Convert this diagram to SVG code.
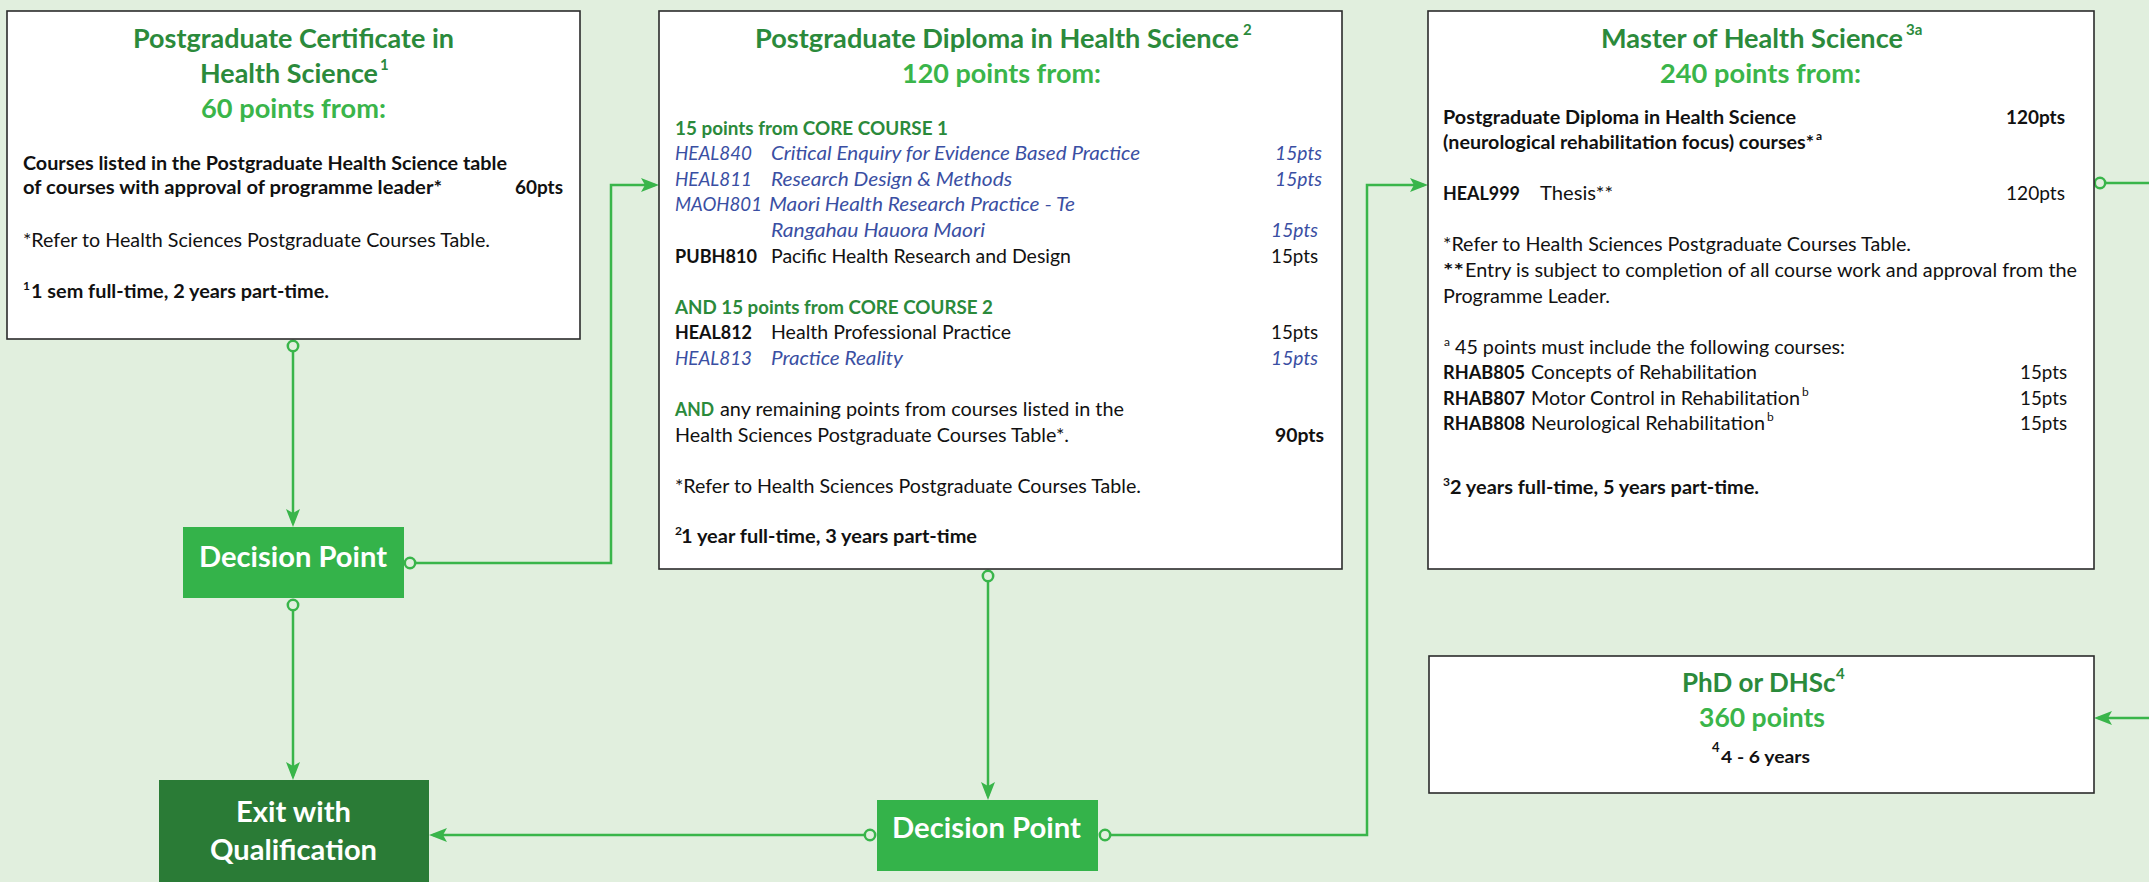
<svg xmlns="http://www.w3.org/2000/svg" width="2149" height="882" viewBox="0 0 2149 882">
<style>
text{font-family:Lato,"Open Sans","Liberation Sans",sans-serif;}
.box{fill:#ffffff;stroke:#2b2b2b;stroke-width:1.6;}
.t1{font-size:27.5px;font-weight:bold;fill:#2b8a3b;}
.t2{font-size:27.5px;font-weight:bold;fill:#3ab54a;}
.sup1{font-size:15px;font-weight:bold;fill:#2b8a3b;}
.b{font-size:19.5px;fill:#111;}
.bb{font-size:19.5px;font-weight:bold;fill:#111;}
.bi{font-size:19.5px;font-style:italic;fill:#3a4fa3;}
.bg{font-size:19.5px;font-weight:bold;fill:#2b8a3b;}
.s{font-size:12px;fill:#111;}
.sb{font-size:12px;font-weight:bold;fill:#111;}
.dp{fill:#34b34a;}
.ex{fill:#2a7b36;}
.wt{font-size:28px;font-weight:bold;fill:#ffffff;}
.conn{fill:none;stroke:#39b54a;stroke-width:2.5;}
.dot{fill:#e1efde;stroke:#39b54a;stroke-width:2.5;}
</style>
<defs>
<marker id="arr" viewBox="0 0 18 14" refX="14" refY="7" markerWidth="18" markerHeight="14" markerUnits="userSpaceOnUse" orient="auto">
<path d="M0,0 L18,7 L0,14 L4,7 z" fill="#39b54a"/>
</marker>
</defs>
<rect x="0" y="0" width="2149" height="882" fill="#e1efde"/>

<g id="connectors">
<path class="conn" d="M293,352 V523" marker-end="url(#arr)"/>
<circle class="dot" cx="293" cy="346" r="5.2"/>
<path class="conn" d="M293,611 V776" marker-end="url(#arr)"/>
<circle class="dot" cx="293" cy="605" r="5.2"/>
<path class="conn" d="M416,563 H611 V185 H655" marker-end="url(#arr)"/>
<circle class="dot" cx="410" cy="563" r="5.2"/>
<path class="conn" d="M988,582 V796" marker-end="url(#arr)"/>
<circle class="dot" cx="988" cy="576" r="5.2"/>
<path class="conn" d="M864,835 H433" marker-end="url(#arr)"/>
<circle class="dot" cx="870" cy="835" r="5.2"/>
<path class="conn" d="M1111,835 H1367 V185 H1424" marker-end="url(#arr)"/>
<circle class="dot" cx="1105" cy="835" r="5.2"/>
<path class="conn" d="M2106,183 H2149"/>
<circle class="dot" cx="2100" cy="183" r="5.2"/>
<path class="conn" d="M2149,718 H2098" marker-end="url(#arr)"/>
</g>

<g id="cert">
<rect class="box" x="7" y="11" width="573" height="328"/>
<text class="t1" x="133" y="48" textLength="321" lengthAdjust="spacingAndGlyphs">Postgraduate Certificate in</text>
<text class="t1" x="200" y="83" textLength="178" lengthAdjust="spacingAndGlyphs">Health Science</text>
<text class="sup1" x="380" y="70">1</text>
<text class="t2" x="201" y="118" textLength="185" lengthAdjust="spacingAndGlyphs">60 points from:</text>
<text class="bb" x="23" y="170" textLength="484" lengthAdjust="spacingAndGlyphs">Courses listed in the Postgraduate Health Science table</text>
<text class="bb" x="23" y="194" textLength="419" lengthAdjust="spacingAndGlyphs">of courses with approval of programme leader*</text>
<text class="bb" x="515" y="194" textLength="48" lengthAdjust="spacingAndGlyphs">60pts</text>
<text class="b" x="23" y="247" textLength="467" lengthAdjust="spacingAndGlyphs">*Refer to Health Sciences Postgraduate Courses Table.</text>
<text class="sb" x="23" y="290">1</text>
<text class="bb" x="31" y="298" textLength="298" lengthAdjust="spacingAndGlyphs">1 sem full-time, 2 years part-time.</text>
</g>

<g id="diploma">
<rect class="box" x="659" y="11" width="683" height="558"/>
<text class="t1" x="755" y="48" textLength="484" lengthAdjust="spacingAndGlyphs">Postgraduate Diploma in Health Science</text>
<text class="sup1" x="1243" y="35">2</text>
<text class="t2" x="902" y="83" textLength="199" lengthAdjust="spacingAndGlyphs">120 points from:</text>
<text class="bg" x="675" y="135" textLength="273" lengthAdjust="spacingAndGlyphs">15 points from CORE COURSE 1</text>
<text class="bi" x="675" y="160" textLength="77" lengthAdjust="spacingAndGlyphs">HEAL840</text>
<text class="bi" x="771" y="160" textLength="369" lengthAdjust="spacingAndGlyphs">Critical Enquiry for Evidence Based Practice</text>
<text class="bi" x="1275" y="160" textLength="47" lengthAdjust="spacingAndGlyphs">15pts</text>
<text class="bi" x="675" y="186" textLength="77" lengthAdjust="spacingAndGlyphs">HEAL811</text>
<text class="bi" x="771" y="186" textLength="241" lengthAdjust="spacingAndGlyphs">Research Design &amp; Methods</text>
<text class="bi" x="1275" y="186" textLength="47" lengthAdjust="spacingAndGlyphs">15pts</text>
<text class="bi" x="675" y="211" textLength="87" lengthAdjust="spacingAndGlyphs">MAOH801</text>
<text class="bi" x="769" y="211" textLength="306" lengthAdjust="spacingAndGlyphs">Maori Health Research Practice - Te</text>
<text class="bi" x="771" y="237" textLength="214" lengthAdjust="spacingAndGlyphs">Rangahau Hauora Maori</text>
<text class="bi" x="1271" y="237" textLength="47" lengthAdjust="spacingAndGlyphs">15pts</text>
<text class="bb" x="675" y="263" textLength="82" lengthAdjust="spacingAndGlyphs">PUBH810</text>
<text class="b" x="771" y="263" textLength="300" lengthAdjust="spacingAndGlyphs">Pacific Health Research and Design</text>
<text class="b" x="1271" y="263" textLength="47" lengthAdjust="spacingAndGlyphs">15pts</text>
<text class="bg" x="675" y="314" textLength="318" lengthAdjust="spacingAndGlyphs">AND 15 points from CORE COURSE 2</text>
<text class="bb" x="675" y="339" textLength="77" lengthAdjust="spacingAndGlyphs">HEAL812</text>
<text class="b" x="771" y="339" textLength="240" lengthAdjust="spacingAndGlyphs">Health Professional Practice</text>
<text class="b" x="1271" y="339" textLength="47" lengthAdjust="spacingAndGlyphs">15pts</text>
<text class="bi" x="675" y="365" textLength="77" lengthAdjust="spacingAndGlyphs">HEAL813</text>
<text class="bi" x="771" y="365" textLength="132" lengthAdjust="spacingAndGlyphs">Practice Reality</text>
<text class="bi" x="1271" y="365" textLength="47" lengthAdjust="spacingAndGlyphs">15pts</text>
<text class="bg" x="675" y="416" textLength="39" lengthAdjust="spacingAndGlyphs">AND</text>
<text class="b" x="720" y="416" textLength="404" lengthAdjust="spacingAndGlyphs">any remaining points from courses listed in the</text>
<text class="b" x="675" y="442" textLength="394" lengthAdjust="spacingAndGlyphs">Health Sciences Postgraduate Courses Table*.</text>
<text class="bb" x="1275" y="442" textLength="49" lengthAdjust="spacingAndGlyphs">90pts</text>
<text class="b" x="675" y="493" textLength="466" lengthAdjust="spacingAndGlyphs">*Refer to Health Sciences Postgraduate Courses Table.</text>
<text class="sb" x="675" y="535">2</text>
<text class="bb" x="681" y="543" textLength="296" lengthAdjust="spacingAndGlyphs">1 year full-time, 3 years part-time</text>
</g>

<g id="master">
<rect class="box" x="1428" y="11" width="666" height="558"/>
<text class="t1" x="1601" y="48" textLength="302" lengthAdjust="spacingAndGlyphs">Master of Health Science</text>
<text class="sup1" x="1906" y="35">3a</text>
<text class="t2" x="1660" y="83" textLength="201" lengthAdjust="spacingAndGlyphs">240 points from:</text>
<text class="bb" x="1443" y="124" textLength="353" lengthAdjust="spacingAndGlyphs">Postgraduate Diploma in Health Science</text>
<text class="bb" x="2006" y="124" textLength="59" lengthAdjust="spacingAndGlyphs">120pts</text>
<text class="bb" x="1443" y="149" textLength="371" lengthAdjust="spacingAndGlyphs">(neurological rehabilitation focus) courses*</text>
<text class="sb" x="1816" y="140">a</text>
<text class="bb" x="1443" y="200" textLength="77" lengthAdjust="spacingAndGlyphs">HEAL999</text>
<text class="b" x="1540" y="200" textLength="73" lengthAdjust="spacingAndGlyphs">Thesis**</text>
<text class="b" x="2006" y="200" textLength="59" lengthAdjust="spacingAndGlyphs">120pts</text>
<text class="b" x="1443" y="251" textLength="468" lengthAdjust="spacingAndGlyphs">*Refer to Health Sciences Postgraduate Courses Table.</text>
<text class="bb" x="1443" y="277" textLength="21" lengthAdjust="spacingAndGlyphs">**</text>
<text class="b" x="1465" y="277" textLength="612" lengthAdjust="spacingAndGlyphs">Entry is subject to completion of all course work and approval from the</text>
<text class="b" x="1443" y="303" textLength="167" lengthAdjust="spacingAndGlyphs">Programme Leader.</text>
<text class="s" x="1444" y="346">a</text>
<text class="b" x="1455" y="354" textLength="390" lengthAdjust="spacingAndGlyphs">45 points must include the following courses:</text>
<text class="bb" x="1443" y="379" textLength="82" lengthAdjust="spacingAndGlyphs">RHAB805</text>
<text class="b" x="1531" y="379" textLength="226" lengthAdjust="spacingAndGlyphs">Concepts of Rehabilitation</text>
<text class="b" x="2020" y="379" textLength="47" lengthAdjust="spacingAndGlyphs">15pts</text>
<text class="bb" x="1443" y="405" textLength="82" lengthAdjust="spacingAndGlyphs">RHAB807</text>
<text class="b" x="1531" y="405" textLength="269" lengthAdjust="spacingAndGlyphs">Motor Control in Rehabilitation</text>
<text class="s" x="1802" y="396">b</text>
<text class="b" x="2020" y="405" textLength="47" lengthAdjust="spacingAndGlyphs">15pts</text>
<text class="bb" x="1443" y="430" textLength="82" lengthAdjust="spacingAndGlyphs">RHAB808</text>
<text class="b" x="1531" y="430" textLength="234" lengthAdjust="spacingAndGlyphs">Neurological Rehabilitation</text>
<text class="s" x="1767" y="421">b</text>
<text class="b" x="2020" y="430" textLength="47" lengthAdjust="spacingAndGlyphs">15pts</text>
<text class="sb" x="1443" y="486">3</text>
<text class="bb" x="1450" y="494" textLength="309" lengthAdjust="spacingAndGlyphs">2 years full-time, 5 years part-time.</text>
</g>

<g id="phd">
<rect class="box" x="1429" y="656" width="665" height="137"/>
<text class="t1" x="1682" y="692" style="font-size:26px">PhD or DHSc</text>
<text class="sup1" x="1836" y="679">4</text>
<text class="t2" x="1699" y="727" textLength="126" lengthAdjust="spacingAndGlyphs">360 points</text>
<text class="sb" x="1712" y="752" style="font-size:13px">4</text>
<text class="bb" x="1721" y="763" textLength="89" lengthAdjust="spacingAndGlyphs" style="font-size:17px">4 - 6 years</text>
</g>

<g id="decision1">
<rect class="dp" x="183" y="527" width="221" height="71"/>
<text class="wt" x="199" y="567" textLength="188" lengthAdjust="spacingAndGlyphs">Decision Point</text>
</g>

<g id="decision2">
<rect class="dp" x="877" y="800" width="221" height="71"/>
<text class="wt" x="892" y="838" textLength="189" lengthAdjust="spacingAndGlyphs">Decision Point</text>
</g>

<g id="exit">
<rect class="ex" x="159" y="780" width="270" height="110"/>
<text class="wt" x="236" y="822" textLength="115" lengthAdjust="spacingAndGlyphs">Exit with</text>
<text class="wt" x="210" y="860" textLength="167" lengthAdjust="spacingAndGlyphs">Qualification</text>
</g>
</svg>
